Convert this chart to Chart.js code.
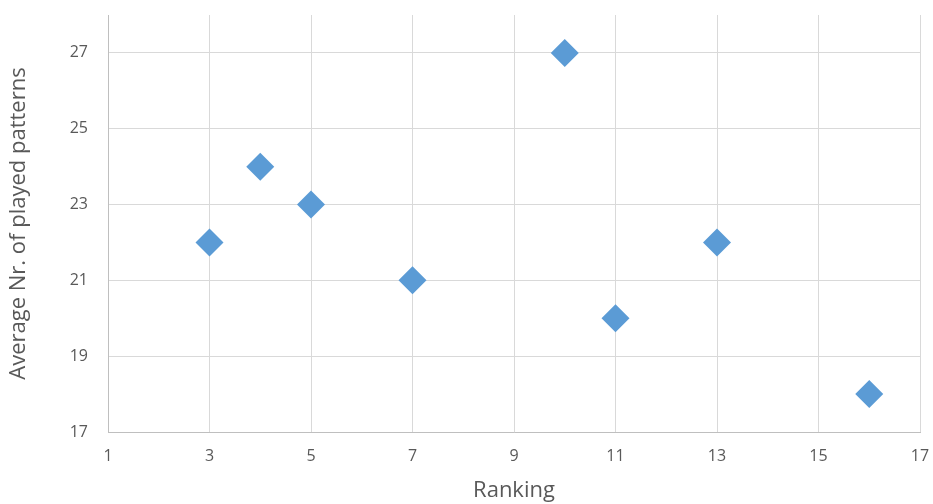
<!DOCTYPE html>
<html>
<head>
<meta charset="utf-8">
<script src="https://cdn.jsdelivr.net/npm/chart.js@4"></script>
<style>
  html, body { margin: 0; padding: 0; background: #ffffff; }
  #wrap { width: 933px; height: 504px; }
</style>
</head>
<body>
<div id="wrap"><canvas id="chart" width="933" height="504"></canvas></div>
<script>
// Ranking position vs. average number of played patterns
const rankings = [3, 4, 5, 7, 10, 11, 13, 16];
const avgPatterns = [22, 24, 23, 21, 27, 20, 22, 18];
const xTickValues = [1, 3, 5, 7, 9, 11, 13, 15, 17];
const yTickValues = [17, 19, 21, 23, 25, 27];

const points = rankings.map((r, i) => ({ x: r, y: avgPatterns[i] }));
const fontFamily = "'Open Sans', 'Noto Sans', sans-serif";

// drop the label overhang padding so the plot area is set by layout.padding only
function noOverhang(s) {
  s.paddingTop = 0; s.paddingBottom = 0; s.paddingLeft = 0; s.paddingRight = 0;
}

new Chart(document.getElementById('chart'), {
  type: 'scatter',
  data: {
    datasets: [{
      label: 'Average Nr. of played patterns',
      data: points,
      pointStyle: 'rectRot',
      pointRadius: 14,
      pointHoverRadius: 14,
      backgroundColor: '#5b9bd5',
      borderColor: '#5b9bd5',
      borderWidth: 0
    }]
  },
  options: {
    responsive: false,
    animation: false,
    layout: { autoPadding: false, padding: { left: 0, right: 13, top: 15, bottom: 0 } },
    plugins: {
      legend: { display: false },
      tooltip: { enabled: false }
    },
    scales: {
      x: {
        type: 'linear',
        min: 1,
        max: 17,
        afterBuildTicks: (s) => { s.ticks = xTickValues.map(v => ({ value: v })); },
        afterFit: (s) => { s.height = 72; noOverhang(s); },
        grid: { color: '#d9d9d9', lineWidth: 1, drawTicks: false },
        border: { color: '#bfbfbf', width: 1 },
        ticks: { color: '#595959', padding: 15, font: { family: fontFamily, size: 16 } },
        title: {
          display: true,
          text: 'Ranking',
          color: '#595959',
          font: { family: fontFamily, size: 22 },
          padding: { top: 0, bottom: 0 }
        }
      },
      y: {
        type: 'linear',
        min: 17,
        max: 28,
        afterBuildTicks: (s) => { s.ticks = yTickValues.map(v => ({ value: v })); },
        afterFit: (s) => { s.width = 108; noOverhang(s); },
        grid: { color: '#d9d9d9', lineWidth: 1, drawTicks: false },
        border: { color: '#bfbfbf', width: 1 },
        ticks: { color: '#595959', padding: 20, font: { family: fontFamily, size: 16 } },
        title: {
          display: true,
          text: 'Average Nr. of played patterns',
          color: '#595959',
          font: { family: fontFamily, size: 22 },
          padding: { top: 6, bottom: 0 }
        }
      }
    }
  }
});
</script>
</body>
</html>
